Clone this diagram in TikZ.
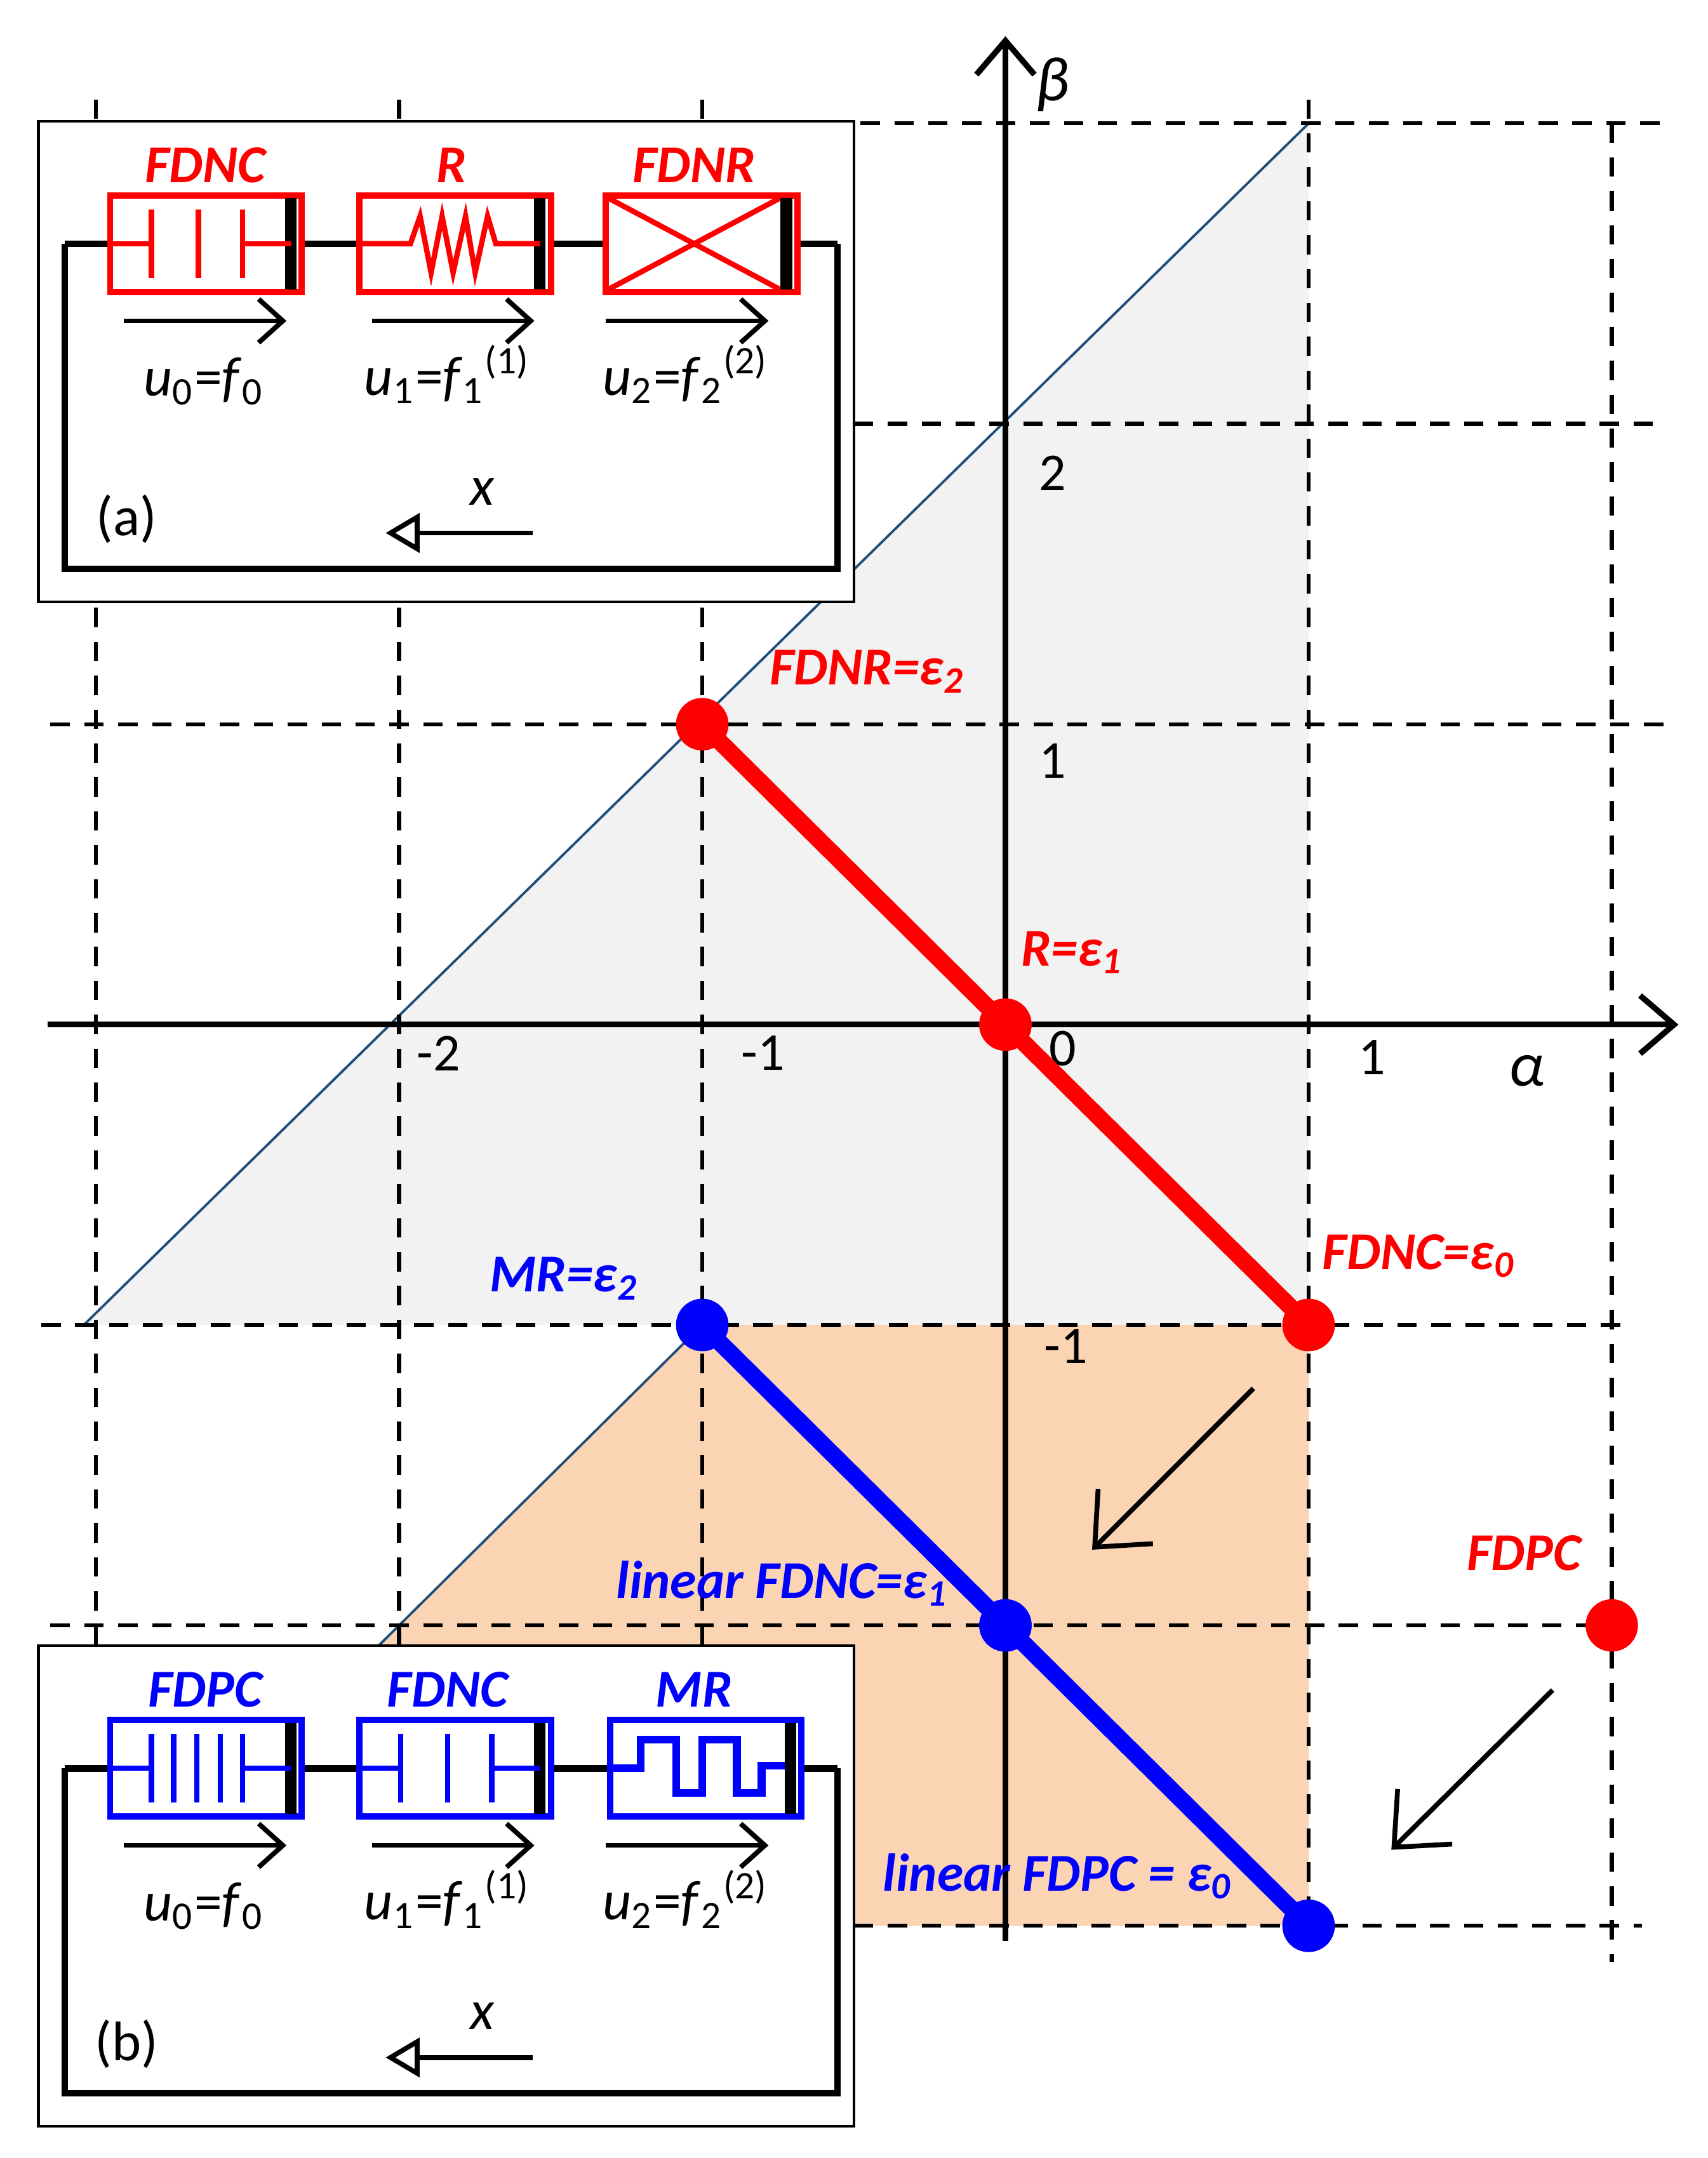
\documentclass[tikz,border=0pt]{standalone}
\usepackage{fontspec}
\setmainfont{Carlito}
\usetikzlibrary{arrows.meta}
\definecolor{greyfill}{RGB}{242,242,242}
\definecolor{orangefill}{RGB}{251,212,180}
\definecolor{diagblue}{RGB}{31,78,121}
\definecolor{myred}{RGB}{255,0,0}
\definecolor{myblue}{RGB}{0,0,255}
\tikzset{
  grid line/.style={dashed,line width=0.8pt,dash pattern=on 4pt off 3pt},
  axis/.style={line width=1.2pt,-{Straight Barb[length=7pt,width=12pt,line width=1.2pt]}},
  dot/.style={circle,inner sep=0pt,minimum size=0.38cm},
  redlab/.style={text=myred,font=\fontsize{11}{13}\selectfont\bfseries\itshape},
  bluelab/.style={text=myblue,font=\fontsize{11}{13}\selectfont\bfseries\itshape},
  tick/.style={font=\fontsize{11}{13}\selectfont},
  elem/.style={line width=1.1pt},
  bar/.style={line width=2.4pt,black},
  flow/.style={line width=1pt,-{Straight Barb[length=5pt,width=9pt]}},
  back/.style={line width=1pt,-{Triangle[open,length=7pt,width=8pt]}},
}
\newcommand{\insetframe}[4]{% #1 top y, #2 caption, #3 label colour, #4 labels
  \draw[line width=0.6pt,fill=white] (28,#1) rectangle (620,#1+349);
  \draw[line width=1.4pt] (47,#1+89) -- (47,#1+325) -- (608,#1+325) -- (608,#1+89);
  \draw[line width=1.4pt] (47,#1+89) -- (608,#1+89);
  \foreach \xa in {90,270,440}
    \draw[flow] (\xa,#1+145) -- (\xa+118,#1+145);
  \node[tick,font=\fontsize{11.5}{14}\selectfont] at (148,#1+189) {\textit{u}\textsubscript{0}=\textit{f}\textsubscript{0}};
  \node[tick,font=\fontsize{11.5}{14}\selectfont] at (325,#1+184) {\textit{u}\textsubscript{1}=\textit{f}\textsubscript{1}\textsuperscript{(1)}};
  \node[tick,font=\fontsize{11.5}{14}\selectfont] at (498,#1+184) {\textit{u}\textsubscript{2}=\textit{f}\textsubscript{2}\textsuperscript{(2)}};
  \node[tick,font=\fontsize{11.5}{14}\selectfont\itshape] at (350,#1+269) {x};
  \draw[back] (387,#1+299) -- (280,#1+299);
  \node[tick,font=\fontsize{11.5}{14}\selectfont] at (92,#1+289) {#2};
}
\newcommand{\ebox}[3]{% #1 left x, #2 top y, #3 colour
  \fill[white] (#1,#2) rectangle (#1+139,#2+70);
  \draw[elem,#3,line width=1.3pt] (#1,#2) rectangle (#1+139,#2+70);
  \draw[bar] (#1+131,#2+2) -- (#1+131,#2+68);
}
\begin{document}
\begin{tikzpicture}[x=0.01cm,y=-0.01cm]
\useasboundingbox (0,0) rectangle (1240,1567);

\begin{scope}[shift={(730,744)},x=2.2cm,y=2.18cm]
  % shaded regions
  \fill[greyfill] (-3.04,-1) -- (1,3) -- (1,-1) -- cycle;
  \fill[orangefill] (-1,-1) -- (1,-1) -- (1,-3) -- (-3,-3) -- cycle;
  \draw[diagblue,line width=0.5pt] (-3.04,-1) -- (1,3);
  \draw[diagblue,line width=0.5pt] (-1,-1) -- (-3,-3);

  % grid
  \draw[grid line] (-0.59,3) -- (2.18,3);
  \draw[grid line] (-0.5,2) -- (2.18,2);
  \draw[grid line] (-3.15,1) -- (2.18,1);
  \draw[grid line] (-3.18,-1) -- (2.05,-1);
  \draw[grid line] (-3.15,-2) -- (2.1,-2);
  \draw[grid line] (-0.5,-3) -- (2.1,-3);
  \foreach \xg in {-3,-2,-1}
    \draw[grid line] (\xg,3.08) -- (\xg,-2.1);
  \draw[grid line] (1,3.08) -- (1,-3.05);
  \draw[grid line] (2,3) -- (2,-3.12);

  % axes
  \coordinate (xs) at (-3.16,0);
  \coordinate (xe) at (2.22,0);
  \coordinate (ys) at (0,-3.05);
  \coordinate (ye) at (0,3.29);
  \draw[axis] (xs) -- (xe);
  \draw[axis] (ys) -- (ye);

  \node[tick] at (-1.87,-0.095) {-2};
  \node[tick] at (-0.80,-0.095) {-1};
  \node[tick] at (0.19,-0.08) {0};
  \node[tick] at (1.21,-0.11) {1};
  \node[tick,font=\fontsize{13}{15}\selectfont\itshape] at (1.72,-0.155) {α};
  \node[tick] at (0.155,1.836) {2};
  \node[tick] at (0.155,0.877) {1};
  \node[tick] at (0.2,-1.07) {-1};
  \node[tick,font=\fontsize{13}{15}\selectfont\itshape] at (0.155,3.13) {β};

  % red branch
  \node[dot,fill=myred] (r2) at (-1,1) {};
  \node[dot,fill=myred] (r1) at (0,0) {};
  \node[dot,fill=myred] (r0) at (1,-1) {};
  \node[dot,fill=myred] (fdpc) at (2,-2) {};
  \draw[myred,line width=3.5pt] (r2.center) -- (r1.center) -- (r0.center);
  \node[dot,fill=myred] at (r2) {};
  \node[dot,fill=myred] at (r1) {};
  \node[dot,fill=myred] at (r0) {};

  % blue branch
  \node[dot,fill=myblue] (b2) at (-1,-1) {};
  \node[dot,fill=myblue] (b1) at (0,-2) {};
  \node[dot,fill=myblue] (b0) at (1,-3) {};
  \draw[myblue,line width=3.5pt] (b2.center) -- (b1.center) -- (b0.center);
  \node[dot,fill=myblue] at (b2) {};
  \node[dot,fill=myblue] at (b1) {};
  \node[dot,fill=myblue] at (b0) {};

  \node[redlab] at (-0.455,1.175) {FDNR=ε\textsubscript{2}};
  \node[redlab] at (0.22,0.24) {R=ε\textsubscript{1}};
  \node[redlab] at (1.364,-0.77) {FDNC=ε\textsubscript{0}};
  \node[redlab] at (1.71,-1.76) {FDPC};
  \node[bluelab] at (-1.455,-0.845) {MR=ε\textsubscript{2}};
  \node[bluelab] at (-0.736,-1.86) {linear FDNC=ε\textsubscript{1}};
  \node[bluelab] at (0.173,-2.835) {linear FDPC = ε\textsubscript{0}};

  % shift arrows
  \coordinate (a1s) at (0.818,-1.211);
  \coordinate (a1e) at (0.286,-1.748);
  \coordinate (a2s) at (1.805,-2.215);
  \coordinate (a2e) at (1.273,-2.747);
  \draw[line width=1pt,-{Straight Barb[length=9pt,width=16pt]}] (a1s) -- (a1e);
  \draw[line width=1pt,-{Straight Barb[length=9pt,width=16pt]}] (a2s) -- (a2e);
\end{scope}

% inset (a)
\insetframe{88}{(a)}{myred}{}
\node[redlab] at (149,120) {FDNC};
\node[redlab] at (328,120) {R};
\node[redlab] at (504,120) {FDNR};
\ebox{80}{142}{myred}
\draw[elem,myred] (80,177) -- (110,177) (110,152) -- (110,202)
  (144,152) -- (144,202) (176,152) -- (176,202) (176,177) -- (211,177);
\ebox{261}{142}{myred}
\draw[elem,myred] (261,177) -- (298,177) -- (305,157) -- (313,198) -- (321,157) -- (329,198)
  -- (338,157) -- (345,198) -- (354,157) -- (360,177) -- (392,177);
\ebox{440}{142}{myred}
\draw[elem,myred] (442,144) -- (566,210) (442,210) -- (566,144);

% inset (b)
\insetframe{1195}{(b)}{myblue}{}
\node[bluelab] at (149,1227) {FDPC};
\node[bluelab] at (325,1227) {FDNC};
\node[bluelab] at (504,1227) {MR};
\ebox{80}{1249}{myblue}
\draw[elem,myblue] (80,1284) -- (110,1284) (176,1284) -- (211,1284);
\foreach \xp in {110,126,143,160,176}
  \draw[elem,myblue] (\xp,1259) -- (\xp,1309);
\ebox{261}{1249}{myblue}
\draw[elem,myblue] (261,1284) -- (291,1284) (357,1284) -- (392,1284);
\foreach \xp in {291,325,357}
  \draw[elem,myblue] (\xp,1259) -- (\xp,1309);
\ebox{443}{1249}{myblue}
\draw[elem,myblue,line width=1.6pt] (443,1284) -- (465,1284) -- (465,1263) -- (491,1263) -- (491,1302)
  -- (510,1302) -- (510,1263) -- (535,1263) -- (535,1302) -- (553,1302) -- (553,1282) -- (570,1282);

\end{tikzpicture}
\end{document}
